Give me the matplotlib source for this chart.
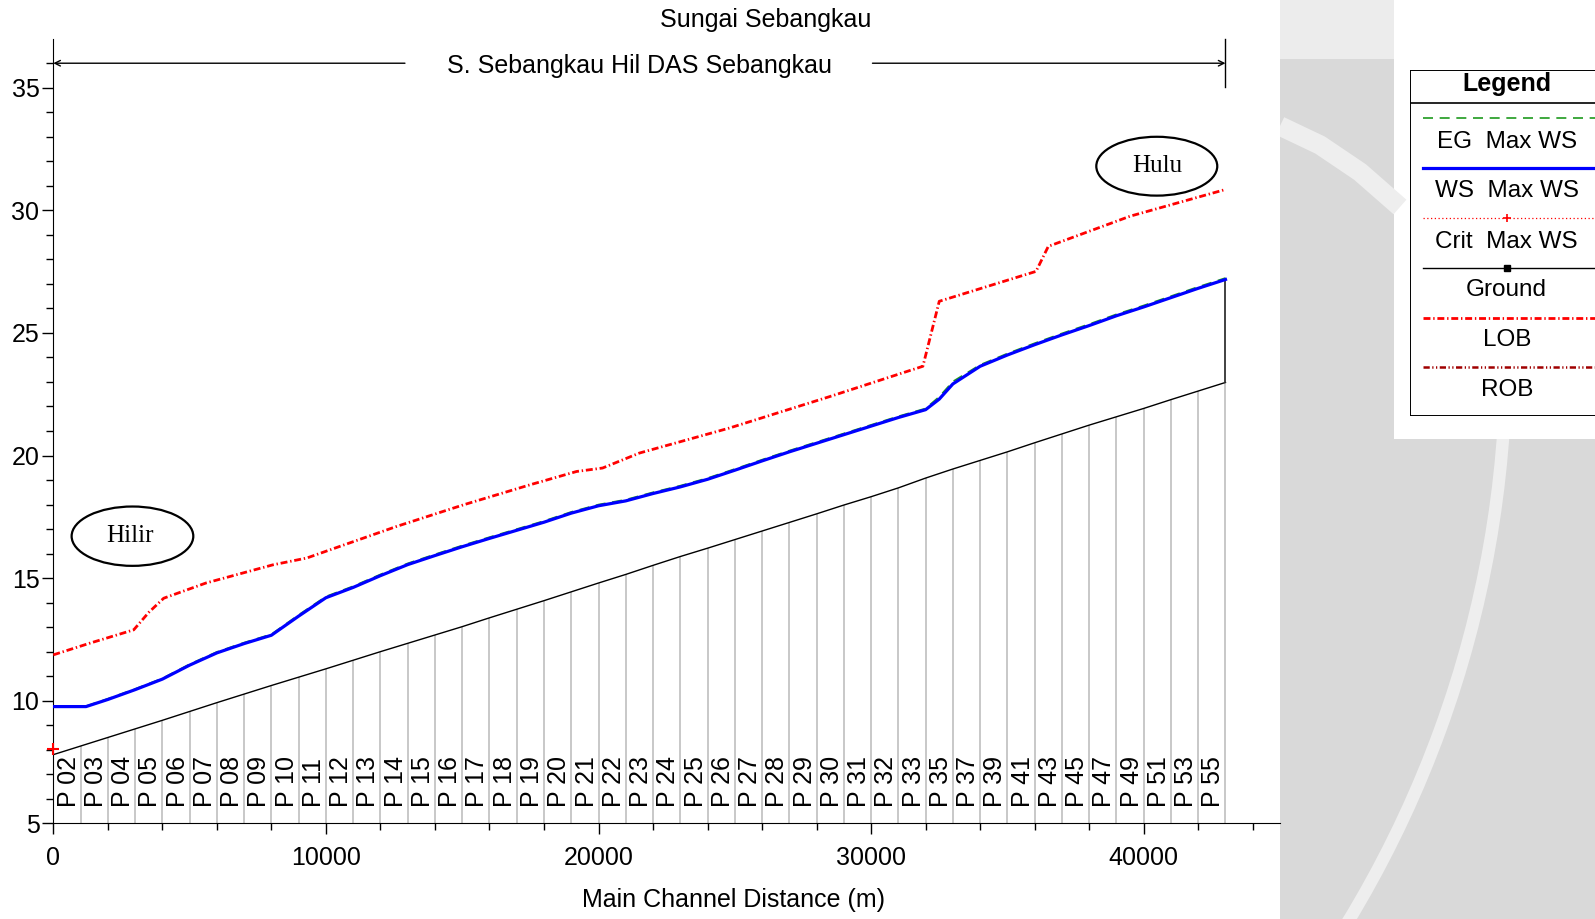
import matplotlib
matplotlib.use("Agg")
import matplotlib.pyplot as plt
from matplotlib.patches import Ellipse, Rectangle, Arc

plt.rcParams['font.family'] = ['Liberation Sans', 'DejaVu Sans']

# cross sections (main channel distance, m) and the labels shown beside them
station_dist = [0, 1000, 2000, 3000, 4000, 5000, 6000, 7000, 8000, 9000,
                10000, 11000, 12000, 13000, 14000, 15000, 16000, 17000, 18000, 19000,
                20000, 21000, 22000, 23000, 24000, 25000, 26000, 27000, 28000, 29000,
                30000, 31000, 32000, 33000, 34000, 35000, 36000, 37000, 38000, 39000,
                40000, 41000, 42000, 43000]
station_names = ["P 02", "P 03", "P 04", "P 05", "P 06", "P 07", "P 08", "P 09", "P 10",
                 "P 11", "P 12", "P 13", "P 14", "P 15", "P 16", "P 17", "P 18", "P 19",
                 "P 20", "P 21", "P 22", "P 23", "P 24", "P 25", "P 26", "P 27", "P 28",
                 "P 29", "P 30", "P 31", "P 32", "P 33", "P 35", "P 37", "P 39", "P 41",
                 "P 43", "P 45", "P 47", "P 49", "P 51", "P 53", "P 55"]
ground_elev = [7.80, 8.15, 8.50, 8.85, 9.20, 9.56, 9.92, 10.27, 10.62, 10.96,
               11.30, 11.65, 12.00, 12.34, 12.68, 13.02, 13.38, 13.73, 14.08, 14.44,
               14.80, 15.15, 15.52, 15.88, 16.22, 16.57, 16.92, 17.27, 17.62, 17.98,
               18.32, 18.68, 19.08, 19.45, 19.80, 20.15, 20.52, 20.88, 21.24, 21.58,
               21.92, 22.28, 22.63, 22.98]

# water surface / energy grade (Max WS profile)
ws_dist = [0, 1200, 2000, 3000, 4000, 5000, 6000, 7000, 8000, 9000,
           10000, 11000, 12000, 13000, 14000, 15000, 16000, 17000, 18000, 19000,
           20000, 21000, 22000, 23000, 24000, 25000, 26000, 27000, 28000, 29000,
           30000, 31000, 32000, 32500, 33000, 34000, 35000, 36000, 37000, 38000,
           39000, 40000, 41000, 42000, 43000]
ws_elev = [9.76, 9.76, 10.05, 10.45, 10.88, 11.45, 11.95, 12.33, 12.67, 13.45,
           14.20, 14.62, 15.10, 15.55, 15.92, 16.28, 16.62, 16.95, 17.28, 17.65,
           17.95, 18.15, 18.45, 18.72, 19.03, 19.40, 19.78, 20.15, 20.50, 20.85,
           21.20, 21.55, 21.87, 22.30, 22.92, 23.64, 24.10, 24.52, 24.92, 25.30,
           25.70, 26.06, 26.44, 26.82, 27.18]
eg_elev = [9.78, 9.78, 10.08, 10.48, 10.91, 11.49, 11.99, 12.37, 12.71, 13.50,
           14.25, 14.67, 15.15, 15.60, 15.97, 16.33, 16.67, 17.00, 17.33, 17.70,
           18.00, 18.20, 18.50, 18.77, 19.08, 19.45, 19.83, 20.20, 20.55, 20.90,
           21.25, 21.60, 21.92, 22.40, 23.02, 23.70, 24.16, 24.58, 24.98, 25.36,
           25.76, 26.12, 26.50, 26.88, 27.24]

# left overbank station elevation
lob_dist = [0, 1350, 2950, 3500, 4050, 5600, 8050, 9300, 10500, 12600,
            15050, 17500, 19200, 20150, 21500, 24800, 28500, 31900, 32500, 36050,
            36500, 39500, 43000]
lob_elev = [11.87, 12.35, 12.89, 13.60, 14.18, 14.80, 15.54, 15.82, 16.29, 17.11,
            17.99, 18.81, 19.35, 19.49, 20.10, 21.12, 22.41, 23.64, 26.29, 27.51,
            28.53, 29.76, 30.85]

# critical depth, only computed at the downstream section
crit_dist = [0]
crit_elev = [8.04]

W, H = 1595, 919
fig = plt.figure(figsize=(W / 100, H / 100), dpi=100)

# page background behind the chart (grey watermark logo of the source document)
bg = fig.add_axes([0, 0, 1, 1], zorder=-1)
bg.set_xlim(0, W)
bg.set_ylim(H, 0)
bg.axis('off')
bg.add_patch(Rectangle((1280, 0), W - 1280, H, color='#d9d9d9', lw=0))
bg.add_patch(Rectangle((1280, 0), 120, 59, color='#ececec', lw=0))
bg.add_patch(Arc((418, 357), 2176, 2176, theta1=0, theta2=40, color='#eeeeee', lw=9))
bg.plot([1280, 1320, 1360, 1400], [126, 145, 172, 207], color='#eeeeee', lw=14,
        solid_capstyle='butt')
bg.add_patch(Rectangle((1394, 0), 210, 439, color='white', lw=0))

ax = fig.add_axes([53.3 / W, 1 - 823.3 / H, (1280 - 53.3) / W, (823.3 - 38.7) / H])
ax.patch.set_color('white')
ax.set_xlim(0, 45000)
ax.set_ylim(5, 37)

lob_style = dict(color='#ff0000', lw=2.0, ls=(0, (2.5, 1, 0.5, 1)))
eg_style = dict(color='#1e9a1e', lw=1.2, ls=(0, (6, 4)))
ws_style = dict(color='#0000ff', lw=2.3)
gr_style = dict(color='black', lw=1.0)

# cross section lines and names
ax.vlines(station_dist, 5, ground_elev, color='#c8c8c8', lw=1.4, zorder=1)
for d, name in zip(station_dist[:-1], station_names):
    ax.text(d + 560, 5.68, name, rotation=90, ha='center', va='bottom', fontsize=18)

ax.plot(station_dist, ground_elev, zorder=3, **gr_style)
ax.plot([station_dist[-1], station_dist[-1]], [ground_elev[-1], ws_elev[-1]],
        color='#333333', lw=1.3, zorder=3)
ax.plot(lob_dist, lob_elev, zorder=4, **lob_style)
ax.plot(ws_dist, eg_elev, zorder=5, **eg_style)
ax.plot(ws_dist, ws_elev, zorder=6, **ws_style)
ax.plot(crit_dist, crit_elev, ls='none', marker='+', color='red', ms=8, mew=1.5,
        clip_on=False, zorder=7)

# reach arrow across the top
ax.annotate('', xy=(0, 36), xytext=(12900, 36),
            arrowprops=dict(arrowstyle='->', lw=1, color='black', shrinkA=0, shrinkB=0))
ax.annotate('', xy=(43000, 36), xytext=(30050, 36),
            arrowprops=dict(arrowstyle='->', lw=1, color='black', shrinkA=0, shrinkB=0))
ax.plot([43000, 43000], [35.05, 37], color='black', lw=1, clip_on=False)
ax.text(21500, 35.9, 'S. Sebangkau Hil DAS Sebangkau', ha='center', va='center', fontsize=18)

# Hilir / Hulu callouts
ax.add_patch(Ellipse((2904, 16.71), 4463, 2.42, fill=False, lw=1.6, color='black', zorder=8))
ax.text(2800, 16.71, 'Hilir', family='Liberation Serif', fontsize=18, ha='center', va='center')
ax.add_patch(Ellipse((40480, 31.8), 4437, 2.40, fill=False, lw=1.6, color='black', zorder=8))
ax.text(40480, 31.8, 'Hulu', family='Liberation Serif', fontsize=18, ha='center', va='center')

for s in ['top', 'right']:
    ax.spines[s].set_visible(False)
ax.set_xticks([0, 10000, 20000, 30000, 40000])
ax.set_xticks([2000, 4000, 6000, 8000, 12000, 14000, 16000, 18000, 22000, 24000, 26000,
               28000, 32000, 34000, 36000, 38000, 42000, 44000], minor=True)
ax.set_yticks([5, 10, 15, 20, 25, 30, 35])
ax.set_yticks([6, 7, 8, 9, 11, 12, 13, 14, 16, 17, 18, 19, 21, 22, 23, 24, 26, 27, 28, 29,
               31, 32, 33, 34, 36], minor=True)
ax.tick_params(which='major', length=8, width=1, labelsize=18)
ax.tick_params(which='minor', length=5, width=1)
ax.tick_params(axis='x', which='major', pad=8)
ax.tick_params(axis='y', which='major', pad=2)

fig.text(766 / W, 1 - 19.5 / H, 'Sungai Sebangkau', ha='center', va='center', fontsize=18)
fig.text(733 / W, 1 - 900 / H, 'Main Channel Distance (m)', ha='center', va='center', fontsize=18)

# legend box drawn by hand, partly running off the right edge like the original
lax = fig.add_axes([1410 / W, 1 - 416 / H, (1620 - 1410) / W, (416 - 70) / H], zorder=2)
lax.set_xlim(1410, 1620)
lax.set_ylim(416, 70)
lax.axis('off')
lax.add_patch(Rectangle((1410, 70), 210, 346, fill=False, lw=1.4, color='black'))
lax.plot([1410, 1620], [103.3, 103.3], color='black', lw=1.2)
lax.text(1506.7, 84, 'Legend', ha='center', va='center', fontsize=18, fontweight='bold')

line_y = [118.3, 168.3, 218.3, 268.3, 317.7, 367.3]
text_y = [141.7, 191, 241.7, 290, 340, 390]
labels = ['EG  Max WS', 'WS  Max WS', 'Crit  Max WS', 'Ground', 'LOB', 'ROB']
styles = [eg_style, ws_style, dict(color='red', lw=0.9, ls=(0, (1, 2))), gr_style,
          lob_style, dict(color='#a00000', lw=1.8, ls=(0, (2.5, 1, 0.5, 1, 0.5, 1)))]
for ly, ty, lab, st in zip(line_y, text_y, labels, styles):
    lax.plot([1423, 1620], [ly, ly], **st)
    lax.text(1506.7, ty, lab, ha='center', va='center', fontsize=17.5)
lax.plot([1506.7], [line_y[2]], marker='+', color='red', ms=6, mew=1.2)
lax.plot([1506.7], [line_y[3]], marker='s', color='black', ms=4)

fig.savefig('out.png', dpi=100)
